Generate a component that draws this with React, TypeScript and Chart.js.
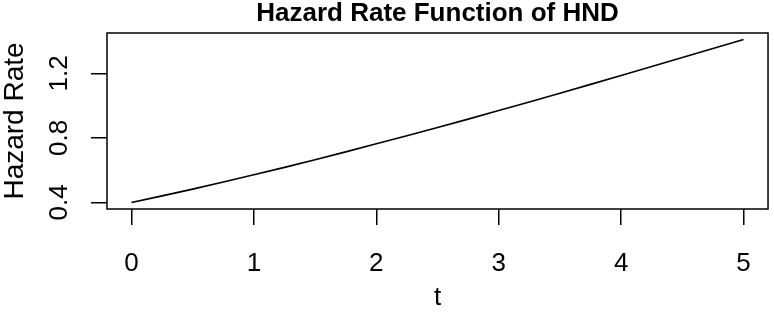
import React, { useEffect, useRef } from "react";
import { Chart, registerables } from "chart.js";

Chart.register(...registerables);

const tValues = [0, 0.5, 1, 1.5, 2, 2.5, 3, 3.5, 4, 4.5, 5];
const hazardValues = [0.399, 0.482, 0.571, 0.664, 0.763, 0.864, 0.969, 1.077, 1.187, 1.298, 1.41];
const xTicks = [0, 1, 2, 3, 4, 5];
const yTicks = [0.4, 0.6, 0.8, 1.0, 1.2, 1.4];
const yTickLabels = ["0.4", "", "0.8", "", "1.2", ""];
const chartTitle = "Hazard Rate Function of HND";

const FONT = "'Liberation Sans', Arial, sans-serif";

const boxPlugin = {
  id: "plotBox",
  afterDraw(chart: any) {
    const { ctx, chartArea } = chart;
    ctx.save();
    ctx.strokeStyle = "#000";
    ctx.lineWidth = 1.5;
    ctx.strokeRect(chartArea.left, chartArea.top, chartArea.right - chartArea.left, chartArea.bottom - chartArea.top);
    ctx.restore();
  },
};

export default function App() {
  const ref = useRef<HTMLCanvasElement>(null);
  useEffect(() => {
    if (!ref.current) return;
    const chart = new Chart(ref.current, {
      type: "line",
      data: {
        datasets: [
          {
            data: tValues.map((t, i) => ({ x: t, y: hazardValues[i] })),
            borderColor: "#000",
            borderWidth: 1.6,
            pointRadius: 0,
            tension: 0.4,
            fill: false,
            xAxisID: "x",
            yAxisID: "y",
          },
        ],
      },
      plugins: [boxPlugin],
      options: {
        animation: false,
        responsive: false,
        layout: { padding: { left: 0, right: 4, top: 0, bottom: 0 } },
        plugins: {
          legend: { display: false },
          tooltip: { enabled: false },
          title: { display: false },
        },
        scales: {
          x: {
            type: "linear",
            position: "bottom",
            min: -0.2,
            max: 5.2,
            afterBuildTicks: (scale: any) => {
              scale.ticks = xTicks.map((v) => ({ value: v }));
            },
            afterFit: (scale: any) => {
              scale.height = 104;
            },
            border: { display: false },
            grid: { drawOnChartArea: false, drawTicks: true, tickLength: 16, color: "#000", lineWidth: 1.5 },
            ticks: {
              color: "#000",
              font: { family: FONT, size: 26 },
              padding: 23,
              maxRotation: 0,
              callback: (v: any) => String(v),
            },
            title: {
              display: true,
              text: "t",
              color: "#000",
              font: { family: FONT, size: 26 },
              padding: 0,
            },
          },
          xTitle: {
            type: "linear",
            position: "top",
            min: -0.2,
            max: 5.2,
            afterFit: (scale: any) => {
              scale.height = 33;
            },
            border: { display: false },
            grid: { display: false },
            ticks: { display: false },
            title: {
              display: true,
              text: chartTitle,
              color: "#000",
              font: { family: FONT, size: 26, weight: "bold" },
              padding: { top: -2, bottom: 0 },
            },
          },
          y: {
            type: "linear",
            min: 0.3586,
            max: 1.4504,
            afterBuildTicks: (scale: any) => {
              scale.ticks = yTicks.map((v) => ({ value: v }));
            },
            afterFit: (scale: any) => {
              scale.width = 107;
            },
            border: { display: false },
            grid: { drawOnChartArea: false, drawTicks: true, tickLength: 16, color: "#000", lineWidth: 1.5 },
            ticks: {
              color: "#000",
              font: { family: FONT, size: 26 },
              padding: 13,
              minRotation: 90,
              maxRotation: 90,
              crossAlign: "center",
              callback: (_v: any, i: number) => yTickLabels[i],
            },
            title: {
              display: true,
              text: "Hazard Rate",
              color: "#000",
              font: { family: FONT, size: 28 },
              padding: { top: -2, bottom: 0 },
            },
          },
        },
      },
    } as any);
    return () => chart.destroy();
  }, []);
  return (
    <canvas
      ref={ref}
      width={774}
      height={313}
      style={{ position: "absolute", left: 0, top: 0, width: 774, height: 313, background: "#fff" }}
    />
  );
}
